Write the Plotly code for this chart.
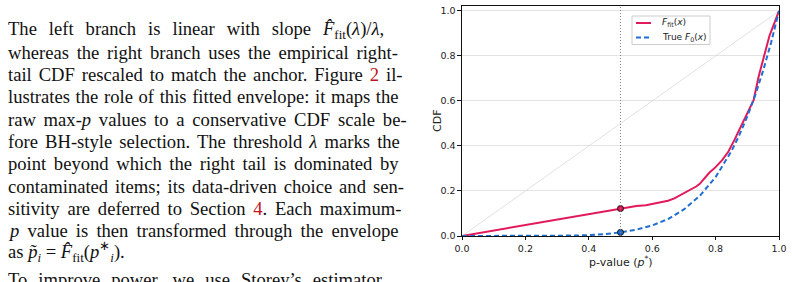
import plotly.graph_objects as go

W, H = 792, 282

# ---------------- data ----------------
fit_x = [0.0, 0.5, 0.52, 0.55, 0.58, 0.60, 0.62, 0.65, 0.67, 0.69, 0.70, 0.72, 0.74, 0.75,
         0.76, 0.77, 0.78, 0.80, 0.82, 0.84, 0.85, 0.86, 0.87, 0.88, 0.90, 0.92, 0.936,
         0.952, 0.97, 1.0]
fit_y = [0.0, 0.122, 0.129, 0.133, 0.137, 0.142, 0.148, 0.157, 0.167, 0.182, 0.193, 0.205,
         0.221, 0.232, 0.250, 0.268, 0.281, 0.306, 0.336, 0.374, 0.398, 0.428, 0.458, 0.488,
         0.545, 0.604, 0.71, 0.80, 0.89, 1.0]
true_x = [0.0, 0.1, 0.2, 0.3, 0.35, 0.4, 0.45, 0.5, 0.55, 0.6, 0.65, 0.7, 0.75, 0.8, 0.85,
          0.875, 0.9, 0.925, 0.95, 0.975, 1.0]
true_y = [0.0, 0.0, 0.0001, 0.0007, 0.0018, 0.004, 0.0083, 0.016, 0.028, 0.047, 0.075,
          0.118, 0.178, 0.262, 0.377, 0.449, 0.531, 0.626, 0.735, 0.859, 1.0]
diag_x = [0.0, 1.0]
diag_y = [0.0, 1.0]
lam = 0.5
anchor_y = [0.122, 0.016]
x_ticks = [0.0, 0.2, 0.4, 0.6, 0.8, 1.0]
y_ticks = [0.0, 0.2, 0.4, 0.6, 0.8, 1.0]
legend_labels = ["<i>F</i><sub>fit</sub>(<i>x</i>)", "True <i>F</i><sub>0</sub>(<i>x</i>)"]
x_title = "p-value (<i>p</i><sup>*</sup>)"
y_title = "CDF"

REF = "#c0141c"
text_lines = [
    "The left branch is linear with slope <i>F̂</i><sub>fit</sub>(<i>λ</i>)/<i>λ</i>,",
    "whereas the right branch uses the empirical right-",
    "tail CDF rescaled to match the anchor. Figure <span style='color:%s'>2</span> il-" % REF,
    "lustrates the role of this fitted envelope: it maps the",
    "raw max-<i>p</i> values to a conservative CDF scale be-",
    "fore BH-style selection. The threshold <i>λ</i> marks the",
    "point beyond which the right tail is dominated by",
    "contaminated items; its data-driven choice and sen-",
    "sitivity are deferred to Section <span style='color:%s'>4</span>. Each maximum-" % REF,
    "<i>p</i> value is then transformed through the envelope",
    "as <i>p̃</i><sub><i>i</i></sub> = <i>F̂</i><sub>fit</sub>(<i>p</i><sup>∗</sup><sub><i>i</i></sub>).",
    "To improve power, we use Storey’s estimator",
]
# extra inter-word spacing (px) used to imitate the justified paragraph
word_gap = [7.3, 3.1, 2.3, 1.0, 3.1, 2.5, 3.0, 2.3, 3.1, 3.5, 0.0, 6.3]
line_shift = [0, 0, 0, 0, 0, 0, 0, 0, 0, 0, -2, 4]

RED = "#e2195b"
BLUE = "#1f6fd2"

# ---------------- layout helpers (pixel -> paper) ----------------
def px(x):
    return x / W

def py(y):
    return 1 - y / H

L, R, T, B = 462, 779, 6, 236

fig = go.Figure()
fig.add_trace(go.Scatter(x=diag_x, y=diag_y, mode="lines",
                         line=dict(color="#d4d4d4", width=0.7), hoverinfo="skip"))
fig.add_trace(go.Scatter(x=fit_x, y=fit_y, mode="lines",
                         line=dict(color=RED, width=2)))
fig.add_trace(go.Scatter(x=true_x, y=true_y, mode="lines",
                         line=dict(color=BLUE, width=2, dash="5px,3px")))
fig.add_trace(go.Scatter(x=[lam, lam], y=anchor_y, mode="markers",
                         marker=dict(size=6, color=[RED, BLUE],
                                     line=dict(color="#111", width=1))))

fig.add_vline(x=lam, line=dict(color="#777777", width=0.9, dash="1px,2px"))

shapes = []
shapes.append(dict(type="rect", xref="paper", yref="paper",
                   x0=px(632), x1=px(710), y0=py(16), y1=py(44.5),
                   line=dict(color="#cccccc", width=1), fillcolor="rgba(255,255,255,0.85)",
                   layer="above"))
shapes.append(dict(type="line", xref="paper", yref="paper",
                   x0=px(636), x1=px(651), y0=py(23), y1=py(23),
                   line=dict(color=RED, width=2), layer="above"))
shapes.append(dict(type="line", xref="paper", yref="paper",
                   x0=px(636), x1=px(651), y0=py(37.5), y1=py(37.5),
                   line=dict(color=BLUE, width=2, dash="5px,3px"), layer="above"))
for s in shapes:
    fig.add_shape(**s)

ann = []
for i, lab in enumerate(legend_labels):
    ann.append(dict(text=lab, xref="paper", yref="paper", x=px(660), y=py(23 + 14.5 * i),
                    xanchor="left", yanchor="middle", showarrow=False,
                    font=dict(family="DejaVu Sans", size=9, color="#222")))

# axis titles
ann.append(dict(text=x_title, xref="paper", yref="paper", x=px((L + R) / 2), y=py(261),
                xanchor="center", yanchor="middle", showarrow=False,
                font=dict(family="DejaVu Sans", size=11, color="#222")))
ann.append(dict(text=y_title, xref="paper", yref="paper", x=px(437), y=py((T + B) / 2),
                xanchor="center", yanchor="middle", showarrow=False, textangle=-90,
                font=dict(family="DejaVu Sans", size=11, color="#222")))

y0 = 30.0
for i, line in enumerate(text_lines):
    yy = y0 + 22.3 * i + line_shift[i]
    txt = "<span style='word-spacing:%.1fpx'>%s</span>" % (word_gap[i], line)
    ann.append(dict(text=txt, xref="paper", yref="paper", x=px(6), y=py(yy),
                    xanchor="left", yanchor="middle", showarrow=False,
                    font=dict(family="Liberation Serif", size=18.6, color="#111")))

fig.update_layout(
    width=W, height=H,
    margin=dict(l=0, r=0, t=0, b=0, autoexpand=False),
    paper_bgcolor="white", plot_bgcolor="white",
    showlegend=False,
    annotations=ann,
    font=dict(family="DejaVu Sans", size=9.5, color="#222"),
    xaxis=dict(domain=[px(L), px(R)], range=[0, 1], tickvals=x_ticks,
               tickformat=".1f", showgrid=False, zeroline=False,
               showline=True, linecolor="#111", linewidth=1.2, mirror=True,
               ticks="outside", ticklen=3, tickwidth=0.8, tickcolor="#111",
               automargin=False),
    yaxis=dict(domain=[1 - B / H, 1 - T / H], range=[0, 1.022], tickvals=y_ticks,
               tickformat=".1f", showgrid=True, gridcolor="#e4e4e4", gridwidth=0.8,
               zeroline=False, showline=True, linecolor="#111", linewidth=1.2, mirror=True,
               ticks="outside", ticklen=3.5, tickwidth=0.8, tickcolor="#111",
               automargin=False),
)

fig.write_html("out.html")
